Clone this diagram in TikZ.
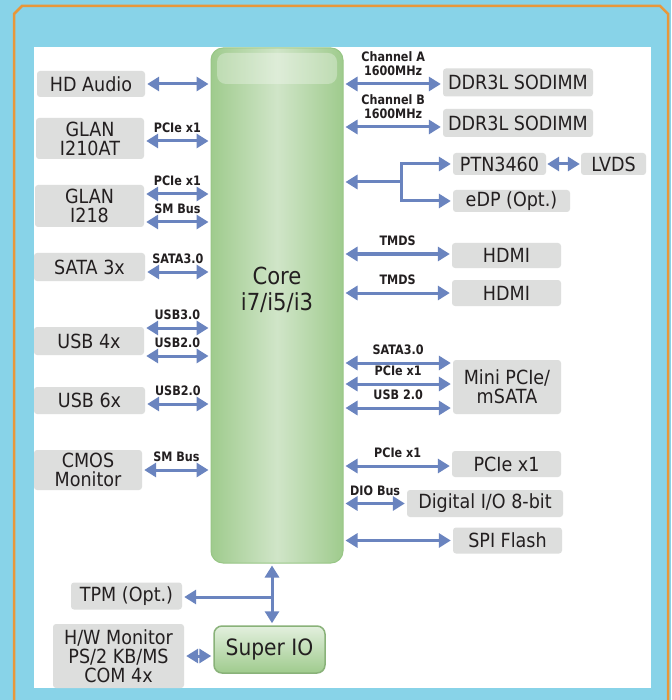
\documentclass[tikz,border=0pt]{standalone}
\usepackage{fontspec}
\setmainfont{DejaVu Sans}[FakeStretch=0.9]
\newfontfamily\busfont{DejaVu Sans}[FakeStretch=0.86]
\usetikzlibrary{arrows.meta}
\definecolor{skyblue}{HTML}{88D3E8}
\definecolor{frameorange}{HTML}{E8973A}
\definecolor{boxgray}{HTML}{DDDEDD}
\definecolor{inkdark}{HTML}{231F20}
\definecolor{busblue}{HTML}{6A84BF}
\definecolor{chipedge}{HTML}{9FCB8D}
\definecolor{chipmid}{HTML}{D0E5C8}
\definecolor{chipline}{HTML}{98C686}
\tikzset{
  >={Triangle[length=12pt,width=14pt]},
  blk/.style={fill=boxgray, rounded corners=3pt, inner sep=0pt, align=center, text=inkdark, font=\fontsize{19.5}{19}\selectfont},
  chip/.style={draw=chipline, line width=1pt, inner sep=0pt, align=center, text=inkdark},
  bus/.style={busblue, line width=3pt, <->, shorten <=2pt, shorten >=2pt},
  feed/.style={bus, ->, shorten <=0pt},
  buslbl/.style={above=7pt, inner sep=0pt, text depth=0pt, text=inkdark, align=center, font=\busfont\bfseries\fontsize{13}{14}\selectfont},
}
\begin{document}
\begin{tikzpicture}[x=1pt,y=-1pt]
\fill[skyblue] (0,0) rectangle (671,700);
\useasboundingbox (0,0) rectangle (671,700);
\draw[frameorange, line width=2.5pt] (14,700) -- (14,14) -- (22,6) -- (660,6) -- (668,14) -- (668,700);
\fill[white] (34,47) rectangle (651,688);

\node[chip, rounded corners=12pt, left color=chipedge, right color=chipedge, middle color=chipmid, minimum width=132pt, minimum height=515pt,
  label={[font=\fontsize{23.5}{26}\selectfont, align=center, text=inkdark, yshift=16pt]center:Core\\i7/i5/i3}] (core) at (277,305.5) {};
\fill[white, opacity=.3, rounded corners=9pt] (217,53) rectangle (337,84);
\node[chip, rounded corners=8pt, line width=1.5pt, draw=chipline!90!black, top color=chipmid!60!white, bottom color=chipedge, minimum width=111pt, minimum height=47pt, font=\fontsize{22.5}{22}\selectfont] (superio) at (269.5,649.5) {Super IO};

\node[blk, minimum width=108pt, minimum height=26pt] (audio) at (91,84) {HD Audio};
\node[blk, minimum width=108pt, minimum height=41pt] (glana) at (90,138.5) {GLAN\\I210AT};
\node[blk, minimum width=109pt, minimum height=42pt] (glanb) at (89.5,206) {GLAN\\I218};
\node[blk, minimum width=111pt, minimum height=28pt] (sata) at (89.5,267) {SATA 3x};
\node[blk, minimum width=110pt, minimum height=28pt] (usbfour) at (89,341) {USB 4x};
\node[blk, minimum width=111pt, minimum height=27pt] (usbsix) at (89.5,400.5) {USB 6x};
\node[blk, minimum width=108pt, minimum height=40pt] (cmos) at (88,470) {CMOS\\Monitor};
\node[blk, minimum width=111pt, minimum height=27pt] (tpm) at (126.5,596) {TPM (Opt.)};
\node[blk, minimum width=131pt, minimum height=64pt] (hwmon) at (118.5,656) {H/W Monitor\\PS/2 KB/MS\\COM 4x};

\node[blk, minimum width=150pt, minimum height=28pt] (dimma) at (518,82.5) {DDR3L SODIMM};
\node[blk, minimum width=150pt, minimum height=28pt] (dimmb) at (518,123) {DDR3L SODIMM};
\node[blk, minimum width=93pt, minimum height=22pt] (ptn) at (499.5,164) {PTN3460};
\node[blk, minimum width=65pt, minimum height=22pt] (lvds) at (613.5,164) {LVDS};
\node[blk, minimum width=117pt, minimum height=22pt] (edp) at (511.5,201) {eDP (Opt.)};
\node[blk, minimum width=109pt, minimum height=25pt] (hdmia) at (506.5,255.5) {HDMI};
\node[blk, minimum width=109pt, minimum height=26pt] (hdmib) at (506.5,293) {HDMI};
\node[blk, minimum width=108pt, minimum height=54pt] (mpcie) at (507,387) {Mini PCIe/\\mSATA};
\node[blk, minimum width=109pt, minimum height=26pt] (pcie) at (506.5,464) {PCIe x1};
\node[blk, minimum width=156pt, minimum height=27pt] (dio) at (485,503.5) {Digital I/O 8-bit};
\node[blk, minimum width=109pt, minimum height=26pt] (spi) at (507.5,540.5) {SPI Flash};

\draw[bus] (audio.east) -- (audio.east -| core.west);
\draw[bus] ([yshift=-2.5pt]glana.east) -- node[buslbl]{PCIe x1} ([yshift=-2.5pt]glana.east -| core.west);
\draw[bus] ([yshift=12pt]glanb.east) -- node[buslbl]{PCIe x1} ([yshift=12pt]glanb.east -| core.west);
\draw[bus] ([yshift=-16pt]glanb.east) -- node[buslbl]{SM Bus} ([yshift=-16pt]glanb.east -| core.west);
\draw[bus] ([yshift=-5pt]sata.east) -- node[buslbl]{SATA3.0} ([yshift=-5pt]sata.east -| core.west);
\draw[bus] ([yshift=13pt]usbfour.east) -- node[buslbl]{USB3.0} ([yshift=13pt]usbfour.east -| core.west);
\draw[bus] ([yshift=-15pt]usbfour.east) -- node[buslbl]{USB2.0} ([yshift=-15pt]usbfour.east -| core.west);
\draw[bus] ([yshift=-3.5pt]usbsix.east) -- node[buslbl]{USB2.0} ([yshift=-3.5pt]usbsix.east -| core.west);
\draw[bus] (cmos.east) -- node[buslbl]{SM Bus} (cmos.east -| core.west);

\draw[bus] ([yshift=-1.5pt]dimma.west -| core.east) -- node[buslbl]{Channel A\\1600MHz} ([yshift=-1.5pt]dimma.west);
\draw[bus] ([yshift=-4pt]dimmb.west -| core.east) -- node[buslbl]{Channel B\\1600MHz} ([yshift=-4pt]dimmb.west);
\coordinate (lvdsplit) at (401,182);
\draw[feed] (lvdsplit) -- (lvdsplit -| core.east);
\draw[feed] (lvdsplit) |- (ptn.west);
\draw[feed] (lvdsplit) |- (edp.west);
\draw[bus, shorten <=1pt, shorten >=1pt] (ptn) -- (lvds);
\draw[bus] ([yshift=1.5pt]hdmia.west -| core.east) -- node[buslbl]{TMDS} ([yshift=1.5pt]hdmia.west);
\draw[bus] (hdmib.west -| core.east) -- node[buslbl]{TMDS} (hdmib.west);
\draw[bus] ([yshift=24pt]mpcie.west -| core.east) -- node[buslbl]{SATA3.0} ([yshift=24pt]mpcie.west);
\draw[bus] ([yshift=3pt]mpcie.west -| core.east) -- node[buslbl]{PCIe x1} ([yshift=3pt]mpcie.west);
\draw[bus] ([yshift=-21pt]mpcie.west -| core.east) -- node[buslbl]{USB 2.0} ([yshift=-21pt]mpcie.west);
\draw[bus] ([yshift=-2pt]pcie.west -| core.east) -- node[buslbl]{PCIe x1} ([yshift=-2pt]pcie.west);
\draw[bus] (dio.west -| core.east) -- node[buslbl]{DIO Bus} (dio.west);
\draw[bus] (spi.west -| core.east) -- (spi.west);

\coordinate (tpmsplit) at (272,597);
\draw[bus] (tpmsplit |- core.south) -- (tpmsplit |- superio.north);
\draw[feed] (tpmsplit) -- (tpmsplit -| tpm.east);
\draw[bus] (hwmon.east) -- (hwmon.east -| superio.west);
\end{tikzpicture}
\end{document}
